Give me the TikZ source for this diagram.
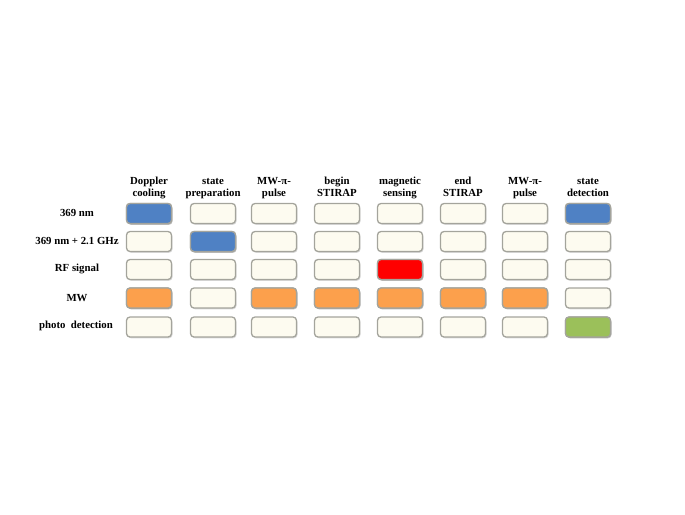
\documentclass[tikz,border=0pt]{standalone}
\usepackage{fontspec}
\setmainfont{Liberation Serif}
\usetikzlibrary{shadows}
\definecolor{cream}{HTML}{FDFBF0}
\definecolor{bblue}{HTML}{4F81C4}
\definecolor{borange}{HTML}{FCA04C}
\definecolor{bred}{HTML}{FF0000}
\definecolor{bgreen}{HTML}{9BC05A}
\definecolor{rim}{HTML}{A4A49C}
\definecolor{rimlight}{HTML}{E8E8E0}
\tikzset{
  slot/.style={draw=rim, line width=1.3pt, rounded corners=3.5pt, minimum width=45pt, minimum height=20pt, inner sep=0pt, fill=cream,
    drop shadow={opacity=0.3, shadow xshift=1pt, shadow yshift=-1.3pt},
    append after command={
      \pgfextra{\draw[rimlight, line width=1pt, rounded corners=2.5pt]
        ([shift={(1.6pt,-1.6pt)}]\tikzlastnode.north west) rectangle ([shift={(-1.6pt,1.6pt)}]\tikzlastnode.south east);}
    }},
  head/.style={font=\bfseries\fontsize{10.8}{12.5}\selectfont, align=center, text width=70pt, inner sep=0pt, anchor=north},
  rowlab/.style={font=\bfseries\fontsize{10.8}{12}\selectfont, inner sep=0pt}
}
\begin{document}
\begin{tikzpicture}[x=1pt,y=-1pt]
\useasboundingbox (0,0) rectangle (685,514);
% headers
\node[head] (h1) at (149,175.5) {\strut Doppler\\\strut cooling};
\node[head] (h2) at (213,175.5) {\strut state\\\strut preparation};
\node[head] (h3) at (274,175.5) {\strut MW-π-\\\strut pulse};
\node[head] (h4) at (337,175.5) {\strut begin\\\strut STIRAP};
\node[head] (h5) at (400,175.5) {\strut magnetic\\\strut sensing};
\node[head] (h6) at (463,175.5) {\strut end\\\strut STIRAP};
\node[head] (h7) at (525,175.5) {\strut MW-π-\\\strut pulse};
\node[head] (h8) at (588,175.5) {\strut state\\\strut detection};
% row labels
\node[rowlab] (r1) at (77,213) {369 nm};
\node[rowlab] (r2) at (77,241) {369 nm + 2.1 GHz};
\node[rowlab] (r3) at (77,269) {RF signal};
\node[rowlab] (r4) at (77,298) {MW};
\node[rowlab] (r5) at (76,326) {photo\ \ detection};
% grid
\foreach \c/\x in {1/149,2/213,3/274,4/337,5/400,6/463,7/525,8/588}{
  \foreach \r/\y in {1/213.5,2/241.5,3/269.5,4/298,5/327}{
    \node[slot] (b\r\c) at (\x,\y) {};
  }
}
% coloured slots
\node[slot, fill=bblue] (c11) at (149,213.5) {};
\node[slot, fill=bblue] (c18) at (588,213.5) {};
\node[slot, fill=bblue] (c22) at (213,241.5) {};
\node[slot, fill=bred] (c35) at (400,269.5) {};
\foreach \x/\n in {149/1,274/3,337/4,400/5,463/6,525/7}{
  \node[slot, fill=borange] (c4\n) at (\x,298) {};
}
\node[slot, fill=bgreen] (c58) at (588,327) {};
\end{tikzpicture}
\end{document}
